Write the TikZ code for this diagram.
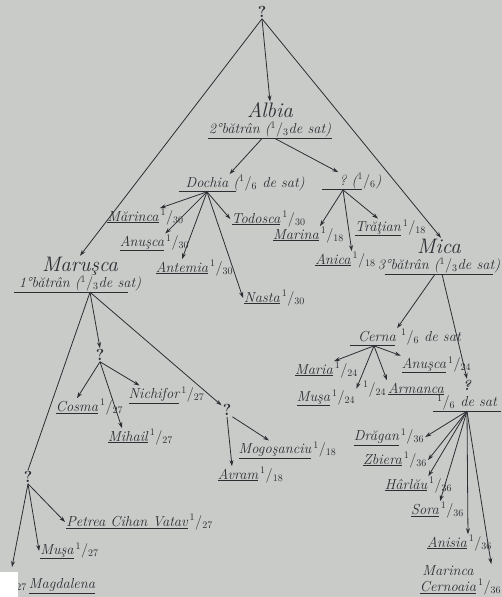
\documentclass[tikz,border=0pt]{standalone}
\usepackage{tikz}
\usetikzlibrary{arrows.meta}
\usetikzlibrary{positioning}

\definecolor{paper}{RGB}{200,203,200}
\definecolor{ink}{RGB}{45,45,52}

\newcommand{\fr}[1]{\ensuremath{{}^{1}/_{#1}}}
\newcommand{\elderfont}{\fontsize{21}{22}\selectfont}

\tikzset{
  heir/.style={font=\itshape\fontsize{14.5}{16}\selectfont, text=ink, inner sep=1pt},
  elder/.style={heir, align=center},
  unknown/.style={heir, font=\bfseries\fontsize{16}{17}\selectfont},
  kin/.style={draw=ink, line width=0.8pt},
  kinarr/.style={kin, -{Stealth[length=6pt,width=4pt]}},
}

\begin{document}
\begin{tikzpicture}[x=1pt,y=-1pt]
  \useasboundingbox (0,0) rectangle (502,597);
  \fill[paper] (0,0) rectangle (502,597);

  % Top of the tree
  \node[unknown] (q0) at (262,12) {?};

  % The three elders
  \node[elder] (albia) at (270,120) {{\elderfont Albia}\\2°bătrân (\fr{3}de sat)};
  \node[elder] (marusca) at (80,274) {{\elderfont Maruşca}\\1°bătrân (\fr{3}de sat)};
  \node[elder] (mica) at (439,256) {{\elderfont Mica}\\3°bătrân (\fr{3}de sat)};

  \draw[kin] (albia.south west) -- (albia.south east);
  \draw[kin] ([xshift=-4pt]marusca.south west) -- ([xshift=-14pt]marusca.south east);
  \draw[kin] ([xshift=8pt]mica.south west) -- ([xshift=-8pt]mica.south east);

  \draw[kinarr] (q0.south) -- (albia.north);
  \draw[kinarr] (q0.south) -- (marusca.north);
  \draw[kinarr] (q0.south) -- ([xshift=2pt]mica.north);

  % Albia's branch
  \coordinate (albiaL) at ([xshift=-8pt]albia.south);
  \coordinate (albiaR) at ([xshift=5pt]albia.south);
  \node[heir] (dochia) at (207,183) {Dochia\rlap{ (\fr{6} de sat)}};
  \node[heir] (qsixth) at (343,181) {?\rlap{ (\fr{6})}};
  \draw[kin] ([xshift=-6pt]dochia.south west) -- ([xshift=6pt]dochia.south east);
  \draw[kin] ([xshift=-16pt]qsixth.south west) -- ([xshift=14pt]qsixth.south east);
  \draw[kinarr] (albiaL) -- (dochia.north east);
  \draw[kinarr] (albiaR) -- (qsixth.north west);

  \coordinate (dochiaF) at (dochia.south);
  \node[heir] (marinca) at (133,217) {\underline{Mărinca}\rlap{\kern2pt\fr{30}}};
  \node[heir] (anusca) at (142,243) {\underline{Anuşca}\rlap{\kern2pt\fr{30}}};
  \node[heir] (antemia) at (182,268) {\underline{Antemia}\rlap{\kern2pt\fr{30}}};
  \node[heir] (todosca) at (256,219) {\underline{Todosca}\rlap{\kern2pt\fr{30}}};
  \node[heir] (nasta) at (262,298) {\underline{Nasta}\rlap{\kern2pt\fr{30}}};
  \draw[kinarr] (dochiaF) -- (marinca.north east);
  \draw[kinarr] (dochiaF) -- (anusca.north east);
  \draw[kinarr] (dochiaF) -- (antemia.north);
  \draw[kinarr] (dochiaF) -- (todosca.west);
  \draw[kinarr] (dochiaF) -- (nasta.west);

  \node[heir] (marina) at (296,235) {\underline{Marina}\rlap{\kern2pt\fr{18}}};
  \node[heir] (anica) at (333,260) {\underline{Anica}\rlap{\kern2pt\fr{18}}};
  \node[heir] (tratian) at (378,228) {\underline{Trăţian}\rlap{\kern2pt\fr{18}}};
  \draw[kinarr] (qsixth.south) -- (marina.north east);
  \draw[kinarr] (qsixth.south) -- (anica.north east);
  \draw[kinarr] (qsixth.south) -- (tratian.north);

  % Mica's branch
  \coordinate (micaL) at ([xshift=-4pt]mica.south);
  \coordinate (micaR) at ([xshift=3pt]mica.south);
  \node[heir] (cerna) at (377,337) {Cerna\rlap{ \fr{6} de sat}};
  \node[heir, align=center] (qlast) at (467,395) {{\bfseries ?}\\\fr{6} de sat};
  \draw[kin] ([xshift=-7pt]cerna.south west) -- ([xshift=-2pt]cerna.south east);
  \draw[kin] ([xshift=-3pt]qlast.south west) -- ([xshift=3pt]qlast.south east);
  \draw[kinarr] (micaL) -- (cerna.north east);
  \draw[kinarr] (micaR) -- (qlast.north);

  \coordinate (cernaF) at ([xshift=-3pt]cerna.south);
  \node[heir] (maria) at (314,370) {\underline{Maria}\rlap{\kern2pt\fr{24}}};
  \node[heir] (musa) at (326,398) {\underline{Muşa}\kern2pt\fr{24}};
  \node[heir] (anuscab) at (424,365) {\underline{Anuşca}\rlap{\kern2pt\fr{24}}};
  \node[heir] (armanca) at (416,389) {\llap{\fr{24}\kern2pt}\underline{Armanca}};
  \draw[kinarr] (cernaF) -- (maria.north east);
  \draw[kinarr] (cernaF) -- (musa.north east);
  \draw[kinarr] (cernaF) -- (anuscab.north west);
  \draw[kinarr] (cernaF) -- (armanca.north west);

  \coordinate (lastF) at (qlast.south);
  \node[heir] (dragan) at (389,437) {\underline{Drăgan}\kern2pt\fr{36}};
  \node[heir] (zbiera) at (395,460) {\underline{Zbiera}\kern2pt\fr{36}};
  \node[heir] (harlau) at (406,485) {\underline{Hârlău}\rlap{\kern2pt\fr{36}}};
  \node[heir] (sora) at (425,510) {\underline{Sora}\rlap{\kern2pt\fr{36}}};
  \node[heir] (anisia) at (447,543) {\underline{Anisia}\rlap{\kern2pt\fr{36}}};
  \node[heir, align=center] (cernoaia) at (448,580) {Marinca\\\underline{Cernoaia}\rlap{\kern2pt\fr{36}}};
  \draw[kinarr] (lastF) -- (dragan.east);
  \draw[kinarr] (lastF) -- (zbiera.east);
  \draw[kinarr] (lastF) -- (harlau.north east);
  \draw[kinarr] (lastF) -- (sora.north east);
  \draw[kinarr] (lastF) -- (anisia.north east);
  \draw[kinarr] (lastF) -- ([xshift=14pt]cernoaia.north east);

  % Marusca's branch
  \coordinate (marF) at ([xshift=10pt]marusca.south);
  \node[unknown] (qa) at (100,355) {?};
  \node[unknown] (qb) at (227,410) {?};
  \node[unknown] (qc) at (28,477) {?};
  \draw[kinarr] (marF) -- (qa.north);
  \draw[kinarr] (marF) -- (qb);
  \draw[kin] (marF) -- (qc.north);

  \node[heir] (cosma) at (77,407) {\underline{Cosma}\rlap{\kern2pt\fr{27}}};
  \node[heir] (mihail) at (128,437) {\underline{Mihail}\rlap{\kern2pt\fr{27}}};
  \node[heir] (nichifor) at (154,395) {\underline{Nichifor}\rlap{\kern2pt\fr{27}}};
  \draw[kinarr] (qa.south) -- (cosma.north);
  \draw[kinarr] (qa.south) -- ([xshift=-6pt]mihail.north);
  \draw[kinarr] (qa.south) -- ([xshift=12pt]nichifor.north west);

  \node[heir] (mogosanciu) at (275,450) {\underline{Mogoşanciu}\rlap{\kern2pt\fr{18}}};
  \node[heir] (avram) at (238,475) {\underline{Avram}\rlap{\kern2pt\fr{18}}};
  \draw[kinarr] (qb.south east) -- ([xshift=-6pt]mogosanciu.north);
  \draw[kinarr] (qb.south) -- ([xshift=-6pt]avram.north);

  \node[heir] (petrea) at (127,522) {\underline{Petrea Cihan Vatav}\rlap{\kern2pt\fr{27}}};
  \node[heir] (musab) at (57,551) {\underline{Muşa}\rlap{\kern2pt\fr{27}}};
  \node[heir] (magdalena) at (62,585) {\llap{\fr{27}\kern2pt}\underline{Magdalena}};
  \coordinate (magT) at (12,567);
  \draw[kinarr] (qc.south) -- (petrea.west);
  \draw[kinarr] (qc.south) -- (musab.west);
  \draw[kinarr] (qc.south) -- (magT);

  % white patch of the photo
  \fill[white] (0,572) rectangle (18,597);
\end{tikzpicture}
\end{document}
